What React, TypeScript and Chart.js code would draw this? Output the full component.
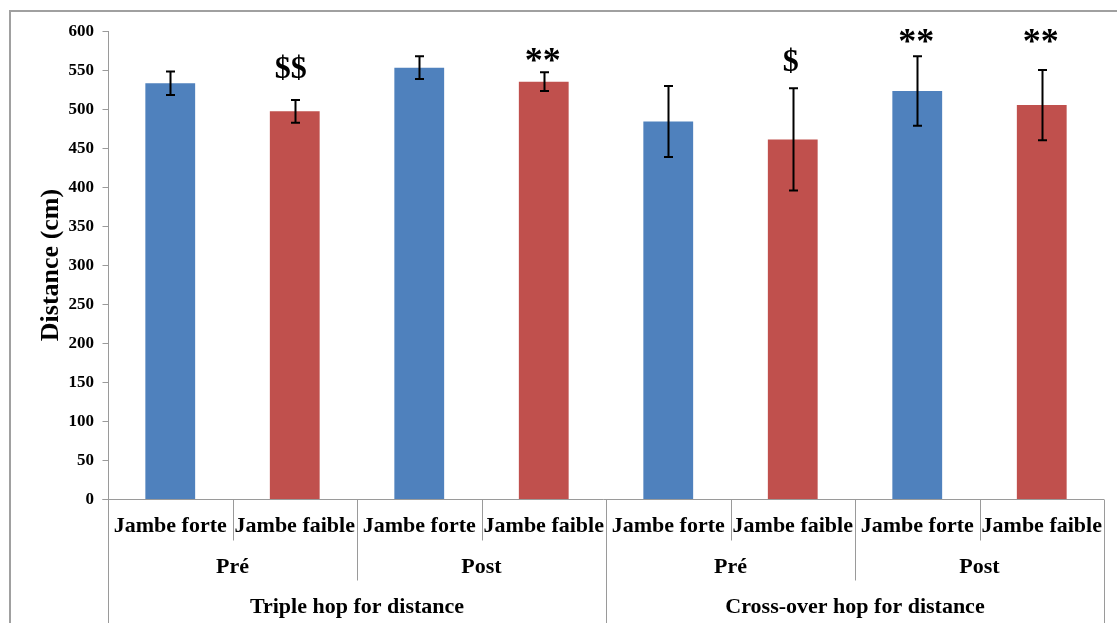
import { useEffect, useRef } from 'react';
import { Chart, registerables } from 'chart.js';

Chart.register(...registerables);

const categories = [
  'Jambe forte', 'Jambe faible', 'Jambe forte', 'Jambe faible',
  'Jambe forte', 'Jambe faible', 'Jambe forte', 'Jambe faible',
];
const phases = ['Pré', 'Post', 'Pré', 'Post'];
const tests = ['Triple hop for distance', 'Cross-over hop for distance'];
const distances = [533, 497, 553, 535, 484, 461, 523, 505];
const errors = [15, 14.5, 14.5, 12, 45.5, 65.5, 44.5, 45];
const markers = ['', '$$', '', '**', '', '$', '**', '**'];
const markerValues = [0, 553, 0, 570, 0, 562, 595, 595];
const yTicks = [0, 50, 100, 150, 200, 250, 300, 350, 400, 450, 500, 550, 600];
const yTitle = 'Distance (cm)';

const BLUE = '#4F81BD';
const RED = '#C0504D';
const AXIS = '#9a9a9a';
const FONT = "'Liberation Serif', 'Times New Roman', serif";

const drawPlugin = {
  id: 'customDraw',
  afterDatasetsDraw(chart: any) {
    const ctx = chart.ctx;
    const y = chart.scales.y;
    const meta = chart.getDatasetMeta(0);
    ctx.save();
    // error bars
    ctx.strokeStyle = '#000';
    ctx.lineWidth = 2;
    meta.data.forEach((bar: any, i: number) => {
      const x = Math.round(bar.x) + 0.5;
      const top = y.getPixelForValue(distances[i] + errors[i]);
      const bot = y.getPixelForValue(distances[i] - errors[i]);
      ctx.beginPath();
      ctx.moveTo(x, top);
      ctx.lineTo(x, bot);
      ctx.moveTo(x - 4.5, top);
      ctx.lineTo(x + 4.5, top);
      ctx.moveTo(x - 4.5, bot);
      ctx.lineTo(x + 4.5, bot);
      ctx.stroke();
    });
    // significance markers
    ctx.fillStyle = '#000';
    ctx.textAlign = 'center';
    ctx.textBaseline = 'alphabetic';
    meta.data.forEach((bar: any, i: number) => {
      const m = markers[i];
      if (!m) return;
      const cy = y.getPixelForValue(markerValues[i]);
      if (m.includes('$')) {
        ctx.font = `bold 32px ${FONT}`;
        ctx.fillText(m, bar.x - (m.length > 1 ? 4 : 2), cy + 10);
      } else {
        ctx.font = `bold 36px ${FONT}`;
        const chars = m.split('');
        const step = 18;
        chars.forEach((ch, k) => {
          const off = (k - (chars.length - 1) / 2) * step;
          ctx.fillText(ch, bar.x - 1 + off, cy + 18);
        });
      }
    });
    ctx.restore();
  },
  afterDraw(chart: any) {
    const ctx = chart.ctx;
    const { left, right, top, bottom } = chart.chartArea;
    const y = chart.scales.y;
    const n = categories.length;
    const w = (right - left) / n;
    ctx.save();
    // outer border
    ctx.strokeStyle = '#a0a0a0';
    ctx.lineWidth = 2;
    ctx.beginPath();
    ctx.moveTo(10, 623);
    ctx.lineTo(10, 11);
    ctx.lineTo(1117, 11);
    ctx.stroke();

    ctx.strokeStyle = AXIS;
    ctx.lineWidth = 1;
    const lx = Math.round(left) + 0.5;
    const by = Math.round(bottom) + 0.5;
    // y axis line and ticks
    ctx.beginPath();
    ctx.moveTo(lx, top);
    ctx.lineTo(lx, bottom);
    yTicks.forEach((v) => {
      const ty = Math.round(y.getPixelForValue(v)) + 0.5;
      ctx.moveTo(lx - 6, ty);
      ctx.lineTo(lx, ty);
    });
    // x axis line
    ctx.moveTo(lx - 6, by);
    ctx.lineTo(right, by);
    // dividers
    for (let k = 0; k <= n; k++) {
      const dx = Math.round(left + k * w) + 0.5;
      let len = 41;
      if (k % 2 === 0) len = 81;
      if (k % 4 === 0) len = 130;
      ctx.moveTo(dx, by);
      ctx.lineTo(dx, by + len);
    }
    ctx.stroke();

    // y tick labels
    ctx.fillStyle = '#000';
    ctx.font = `bold 17px ${FONT}`;
    ctx.textAlign = 'right';
    ctx.textBaseline = 'middle';
    yTicks.forEach((v) => {
      ctx.fillText(String(v), left - 14, y.getPixelForValue(v) + 1);
    });

    // y title
    ctx.save();
    ctx.translate(51, (top + bottom) / 2);
    ctx.rotate(-Math.PI / 2);
    ctx.textAlign = 'center';
    ctx.textBaseline = 'middle';
    ctx.font = `bold 26px ${FONT}`;
    ctx.fillText(yTitle, 0, 0);
    ctx.restore();

    // category labels
    ctx.textAlign = 'center';
    ctx.textBaseline = 'alphabetic';
    ctx.font = `bold 22px ${FONT}`;
    categories.forEach((c, i) => {
      ctx.fillText(c, left + (i + 0.5) * w, bottom + 33);
    });
    phases.forEach((p, i) => {
      ctx.fillText(p, left + (i * 2 + 1) * w, bottom + 74);
    });
    tests.forEach((t, i) => {
      ctx.fillText(t, left + (i * 4 + 2) * w, bottom + 114);
    });
    ctx.restore();
  },
};

export default function App() {
  const ref = useRef<HTMLCanvasElement>(null);
  useEffect(() => {
    const chart = new Chart(ref.current!, {
      type: 'bar',
      data: {
        labels: categories,
        datasets: [
          {
            data: distances,
            backgroundColor: categories.map((_, i) => (i % 2 === 0 ? BLUE : RED)),
            barPercentage: 0.4,
            categoryPercentage: 1,
          },
        ],
      },
      options: {
        responsive: false,
        animation: false,
        devicePixelRatio: 1,
        layout: { padding: { left: 108, right: 13, top: 31, bottom: 124 } },
        plugins: { legend: { display: false }, tooltip: { enabled: false } },
        scales: {
          x: { display: false },
          y: { display: false, min: 0, max: 600 },
        },
      },
      plugins: [drawPlugin],
    });
    return () => chart.destroy();
  }, []);
  return (
    <div style={{ position: 'fixed', left: 0, top: 0, width: 1117, height: 623, background: '#fff' }}>
      <canvas ref={ref} width={1117} height={623} style={{ display: 'block' }} />
    </div>
  );
}
